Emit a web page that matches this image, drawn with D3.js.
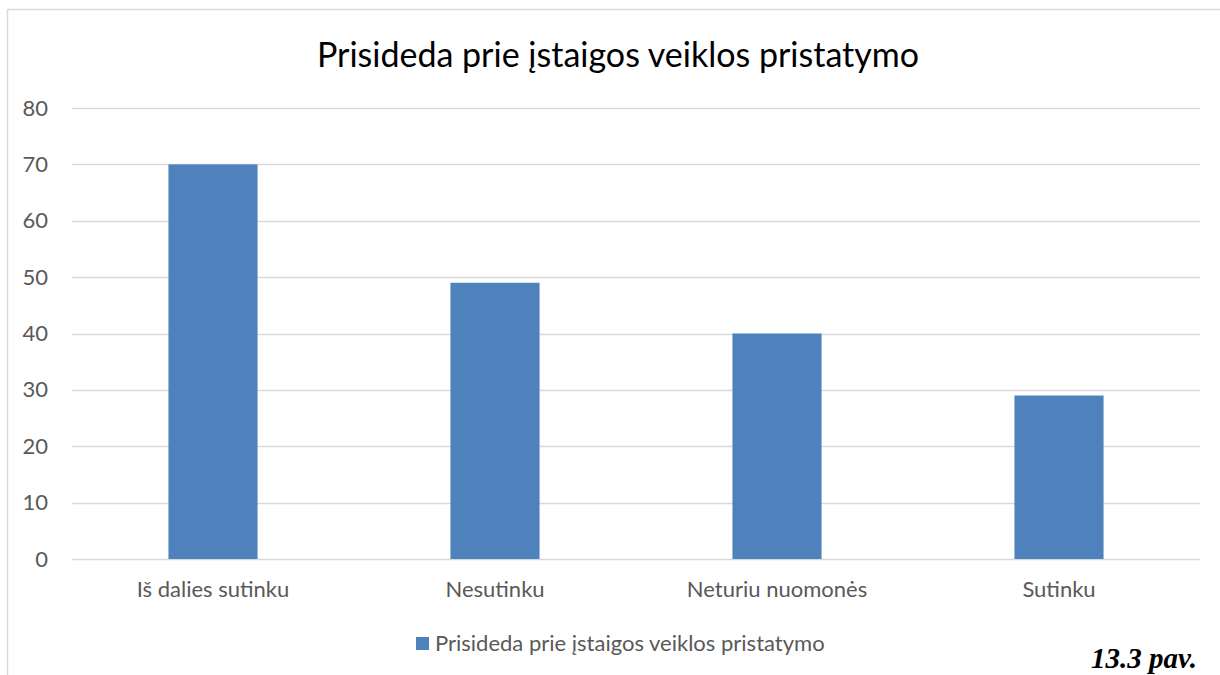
<!DOCTYPE html>
<html>
<head>
<meta charset="utf-8">
<script src="https://cdn.jsdelivr.net/npm/d3@7"></script>
<style>
  body { margin: 0; background: #fff; }
  svg { display: block; }
</style>
</head>
<body>
<div id="chart-area"></div>
<script>
// Chart data
var categories = ["Iš dalies sutinku", "Nesutinku", "Neturiu nuomonės", "Sutinku"];
var values = [70, 49, 40, 29];
var seriesName = "Prisideda prie įstaigos veiklos pristatymo";
var yTicks = [0, 10, 20, 30, 40, 50, 60, 70, 80];

var W = 1220, H = 675;
var margin = { left: 72, right: 20, top: 108, bottom: 116 };
var width = W - margin.left - margin.right,
    height = H - margin.top - margin.bottom;

var font = "Lato, 'Open Sans', sans-serif";

var svg = d3.select("#chart-area")
    .append("svg")
        .attr("width", W)
        .attr("height", H);

// Outer frame (only top and left edges are visible in the crop)
svg.append("path")
    .attr("d", "M7.5," + H + "V9.5H" + W)
    .attr("fill", "none")
    .attr("stroke", "#d9d9d9")
    .attr("stroke-width", 1.5);

var g = svg.append("g")
    .attr("transform", "translate(" + margin.left + "," + margin.top + ")");

// Scales
var x = d3.scaleBand()
    .domain(categories)
    .range([0, width])
    .paddingInner(0.684)
    .paddingOuter(0.342);

var y = d3.scaleLinear()
    .domain([0, 80])
    .range([height, 0]);

// Gridlines
g.selectAll("line.grid")
    .data(yTicks)
    .enter().append("line")
        .attr("class", "grid")
        .attr("x1", 0)
        .attr("x2", width)
        .attr("y1", function(d){ return Math.round(y(d)) + 0.5; })
        .attr("y2", function(d){ return Math.round(y(d)) + 0.5; })
        .attr("stroke", "#d9d9d9")
        .attr("stroke-width", 1.5);

// Y axis labels
var yAxis = d3.axisLeft(y).tickValues(yTicks).tickSize(0).tickPadding(24);
g.append("g")
    .call(yAxis)
    .call(function(s){ s.select(".domain").remove(); })
    .selectAll("text")
        .attr("font-family", font)
        .attr("font-size", "22px")
        .attr("fill", "#595959");

// Bars
g.selectAll("rect.bar")
    .data(values)
    .enter().append("rect")
        .attr("class", "bar")
        .attr("x", function(d, i){ return x(categories[i]); })
        .attr("y", function(d){ return y(d); })
        .attr("width", x.bandwidth())
        .attr("height", function(d){ return height - y(d); })
        .attr("fill", "#4f81bd");

// X axis labels
var xAxis = d3.axisBottom(x).tickSize(0).tickPadding(22);
g.append("g")
    .attr("transform", "translate(0," + height + ")")
    .call(xAxis)
    .call(function(s){ s.select(".domain").remove(); })
    .selectAll("text")
        .attr("font-family", font)
        .attr("font-size", "22px")
        .attr("fill", "#595959");

// Title
svg.append("text")
    .attr("x", 618)
    .attr("y", 67)
    .attr("text-anchor", "middle")
    .attr("font-family", font)
    .attr("font-size", "34px")
    .attr("fill", "#000")
    .text(seriesName);

// Legend
var legend = svg.append("g")
    .attr("transform", "translate(416,637)");
legend.append("rect")
    .attr("width", 13)
    .attr("height", 13)
    .attr("fill", "#4f81bd");
legend.append("text")
    .attr("x", 19)
    .attr("y", 14)
    .attr("font-family", font)
    .attr("font-size", "22px")
    .attr("fill", "#595959")
    .text(seriesName);

// Figure caption
svg.append("text")
    .attr("x", 1197)
    .attr("y", 668)
    .attr("text-anchor", "end")
    .attr("font-family", "'Liberation Serif', 'Times New Roman', serif")
    .attr("font-style", "italic")
    .attr("font-weight", "bold")
    .attr("font-size", "29px")
    .attr("fill", "#000")
    .text("13.3 pav.");
</script>
</body>
</html>
